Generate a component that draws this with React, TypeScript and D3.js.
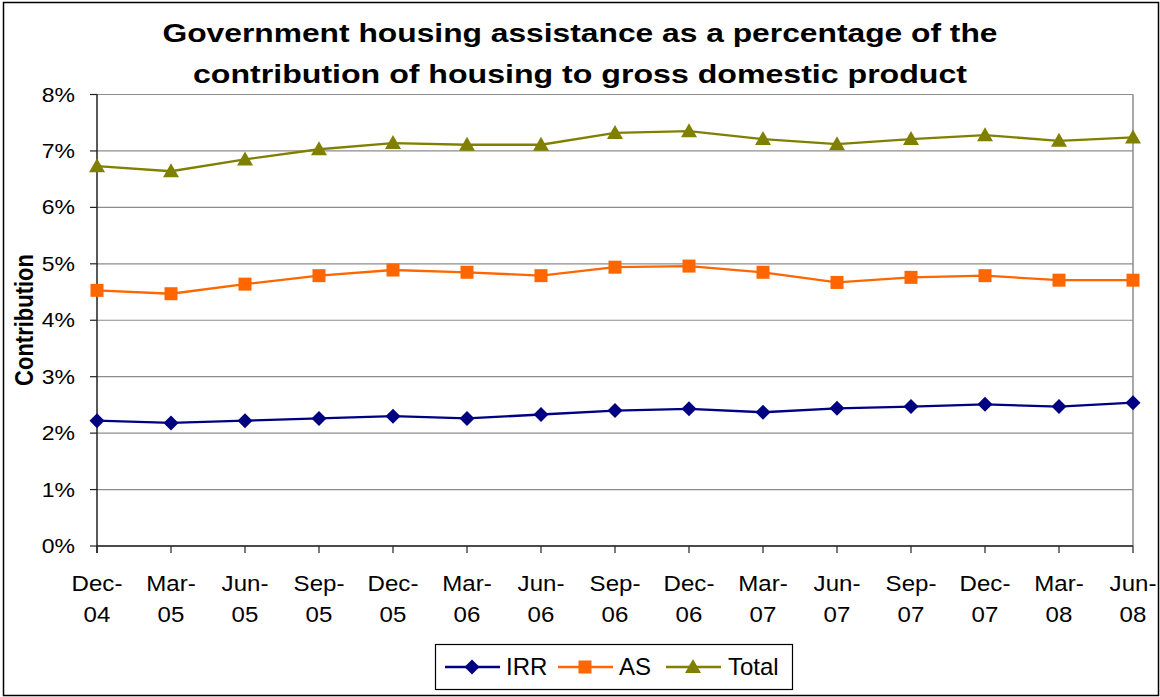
import React from "react";
import * as d3 from "d3";

const quarters = ["Dec-04", "Mar-05", "Jun-05", "Sep-05", "Dec-05", "Mar-06", "Jun-06", "Sep-06", "Dec-06", "Mar-07", "Jun-07", "Sep-07", "Dec-07", "Mar-08", "Jun-08"];
const irr = [2.22, 2.18, 2.22, 2.26, 2.3, 2.26, 2.33, 2.4, 2.43, 2.37, 2.44, 2.47, 2.51, 2.47, 2.54];
const as = [4.53, 4.47, 4.64, 4.79, 4.89, 4.85, 4.79, 4.94, 4.96, 4.85, 4.67, 4.76, 4.79, 4.71, 4.71];
const total = [6.73, 6.64, 6.85, 7.03, 7.14, 7.11, 7.11, 7.32, 7.35, 7.21, 7.12, 7.21, 7.28, 7.18, 7.24];
const yTicks = [0, 1, 2, 3, 4, 5, 6, 7, 8];

const series = [
  { name: "IRR", values: irr, color: "#000080", marker: "diamond" },
  { name: "AS", values: as, color: "#FF6600", marker: "square" },
  { name: "Total", values: total, color: "#808000", marker: "triangle" },
];

const width = 1160;
const height = 697;
const marginLeft = 97;
const marginRight = 27;
const marginTop = 94.5;
const marginBottom = 151;
const font = "'Liberation Sans', Arial, sans-serif";

function Marker({ type, x, y, color }: { type: string; x: number; y: number; color: string }) {
  if (type === "diamond") {
    return <path d={`M${x},${y - 7.5}L${x + 7.5},${y}L${x},${y + 7.5}L${x - 7.5},${y}Z`} fill={color} />;
  }
  if (type === "square") {
    return <rect x={x - 6.5} y={y - 6.5} width={13} height={13} fill={color} />;
  }
  return <path d={`M${x},${y - 8}L${x + 8},${y + 6}L${x - 8},${y + 6}Z`} fill={color} />;
}

export default function App() {
  const x = d3
    .scalePoint<string>()
    .domain(quarters)
    .range([marginLeft, width - marginRight]);
  const y = d3
    .scaleLinear()
    .domain([0, 8])
    .range([height - marginBottom, marginTop]);

  const line = d3
    .line<number>()
    .x((_, i) => x(quarters[i]) as number)
    .y((d) => y(d));

  const legendItems = [
    { x0: 445, tx: 506 },
    { x0: 558, tx: 619 },
    { x0: 666, tx: 728 },
  ];

  return (
    <svg
      width={width}
      height={height}
      style={{ position: "absolute", left: 0, top: 0, background: "#fff" }}
      fontFamily={font}
    >
      <rect x={3.5} y={2.5} width={width - 5} height={height - 4} fill="none" stroke="#000" strokeWidth={1.5} />

      <text x={580} y={42} textAnchor="middle" fontSize={25} fontWeight="bold" textLength={835} lengthAdjust="spacingAndGlyphs">
        Government housing assistance as a percentage of the
      </text>
      <text x={580} y={83} textAnchor="middle" fontSize={25} fontWeight="bold" textLength={774} lengthAdjust="spacingAndGlyphs">
        contribution of housing to gross domestic product
      </text>

      {/* grid lines */}
      {yTicks.map((t) => (
        <line key={t} x1={marginLeft} x2={width - marginRight} y1={y(t)} y2={y(t)} stroke="#8c8c8c" strokeWidth={1.2} />
      ))}
      <line x1={width - marginRight} x2={width - marginRight} y1={marginTop} y2={y(0)} stroke="#8c8c8c" strokeWidth={1.5} />

      {/* y axis */}
      <line x1={marginLeft} x2={marginLeft} y1={marginTop} y2={y(0) + 7} stroke="#222" strokeWidth={1.5} />
      {yTicks.map((t) => (
        <g key={t}>
          <line x1={marginLeft - 7} x2={marginLeft} y1={y(t)} y2={y(t)} stroke="#222" strokeWidth={1.2} />
          <text transform={`translate(75,${y(t) + 7}) scale(1.15,1)`} textAnchor="end" fontSize={20}>
            {t}%
          </text>
        </g>
      ))}

      {/* x axis */}
      <line x1={marginLeft} x2={width - marginRight} y1={y(0)} y2={y(0)} stroke="#222" strokeWidth={1.5} />
      {quarters.map((q) => {
        const [m, yr] = q.split("-");
        const px = x(q) as number;
        return (
          <g key={q}>
            <line x1={px} x2={px} y1={y(0)} y2={y(0) + 7} stroke="#222" strokeWidth={1.2} />
            <g transform={`translate(${px},0) scale(1.12,1)`}>
              <text x={0} y={591} textAnchor="middle" fontSize={21.5}>
                {m}-
              </text>
              <text x={0} y={622} textAnchor="middle" fontSize={21.5}>
                {yr}
              </text>
            </g>
          </g>
        );
      })}

      <text transform="translate(33,320) scale(1.2,1) rotate(-90)" textAnchor="middle" fontSize={22} fontWeight="bold">
        Contribution
      </text>

      {/* series */}
      {series.map((s) => (
        <g key={s.name}>
          <path d={line(s.values) ?? ""} fill="none" stroke={s.color} strokeWidth={2.3} />
          {s.values.map((v, i) => (
            <Marker key={i} type={s.marker} x={x(quarters[i]) as number} y={y(v)} color={s.color} />
          ))}
        </g>
      ))}

      {/* legend */}
      <rect x={435.5} y={644.5} width={357} height={45} fill="#fff" stroke="#000" strokeWidth={1.2} />
      {series.map((s, i) => {
        const it = legendItems[i];
        return (
          <g key={s.name}>
            <line x1={it.x0} x2={it.x0 + 55} y1={667} y2={667} stroke={s.color} strokeWidth={2.3} />
            <Marker type={s.marker} x={it.x0 + 27} y={667} color={s.color} />
            <text x={it.tx} y={675} fontSize={24}>
              {s.name}
            </text>
          </g>
        );
      })}
    </svg>
  );
}
